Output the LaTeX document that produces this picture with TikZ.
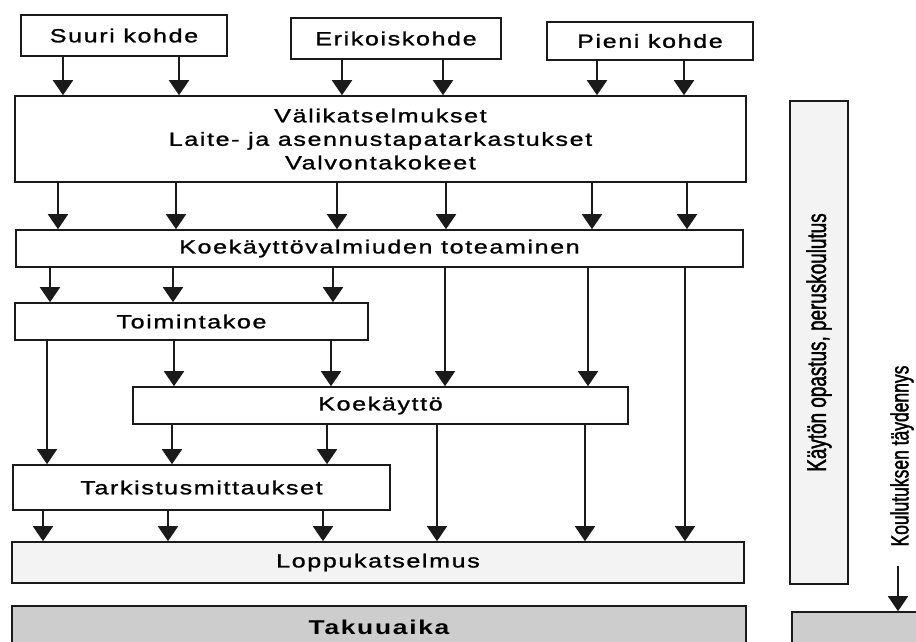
\documentclass[tikz,border=0pt]{standalone}
\usepackage{fontspec}
\setmainfont{Liberation Sans}[FakeStretch=1.32,LetterSpace=8.5,UprightFeatures={FakeBold=1.2}]
\newfontfamily\narrowfont{Liberation Sans}[FakeStretch=0.7,FakeBold=1.5]
\usetikzlibrary{arrows.meta}
\definecolor{ink}{HTML}{1A1A1A}
\definecolor{paleshade}{HTML}{F3F3F3}
\definecolor{midshade}{HTML}{CDCDCD}
% vertical connector at a given x between the lower edge of one box and the upper edge of another
\newcommand\flow[4]{\draw[#4] (#2.south -| #1,0) -- (#3.north -| #1,0);}
\begin{document}
\begin{tikzpicture}[x=1pt,y=-1pt,
  box/.style={draw=ink,line width=1.6pt,fill=white,inner sep=0pt,
    font=\fontsize{19}{23.5}\selectfont,align=center},
  arr/.style={draw=ink,line width=1.9pt,-{Triangle[width=20pt,length=15pt]}},
  larr/.style={draw=ink,line width=1.3pt,-{Triangle[width=20pt,length=15pt]}},
  sidetext/.style={rotate=90,inner sep=0pt,font=\narrowfont}
]
\useasboundingbox (0,0) rectangle (916,641);
\clip (0,0) rectangle (916,641);
\fill[white] (0,0) rectangle (916,641);

% project types
\node[box,minimum width=206pt,minimum height=41pt] (suuri) at (124,35.5) {Suuri kohde};
\node[box,minimum width=210pt,minimum height=41pt] (erik) at (396,38.5) {Erikoiskohde};
\node[box,minimum width=206pt,minimum height=38pt] (pieni) at (650,41) {Pieni kohde};

% inspection and testing stages
\node[box,minimum width=731pt,minimum height=86pt] (vali) at (380.5,139)
  {Välikatselmukset\\Laite- ja asennustapatarkastukset\\Valvontakokeet};
\node[box,minimum width=727pt,minimum height=37pt] (kval) at (379.5,248.5)
  {Koekäyttövalmiuden toteaminen};
\node[box,minimum width=353pt,minimum height=37pt] (toim) at (191.5,321.5) {Toimintakoe};
\node[box,minimum width=495pt,minimum height=37pt] (koek) at (380.5,405.5) {Koekäyttö};
\node[box,minimum width=377pt,minimum height=45pt] (tark) at (201.5,487.5) {Tarkistusmittaukset};
\node[box,fill=paleshade,minimum width=732pt,minimum height=41pt] (lopp) at (378,562.5) {Loppukatselmus};
\node[box,fill=midshade,minimum width=734pt,minimum height=42pt,
  font=\fontsize{20}{24}\selectfont\bfseries] (taku) at (379,627) {Takuuaika};

% training column
\node[box,fill=paleshade,rotate=90,minimum width=483pt,minimum height=58pt,
  font=\narrowfont\fontsize{27}{30}\selectfont] (kayt) at (819,342.5)
  {Käytön opastus, peruskoulutus};
\node[sidetext,font=\narrowfont\fontsize{25}{30}\selectfont] (tayd) at (902,456) {Koulutuksen täydennys};
\node[box,fill=midshade,minimum width=138pt,minimum height=38pt] (rbox) at (861,631) {};
\coordinate (tend) at (898,566);
\draw[larr] (tend) -- (tend |- rbox.north);

% flows
\flow{63}{suuri}{vali}{arr}
\flow{179}{suuri}{vali}{arr}
\flow{342}{erik}{vali}{arr}
\flow{443}{erik}{vali}{arr}
\flow{597}{pieni}{vali}{arr}
\flow{684}{pieni}{vali}{arr}

\flow{58}{vali}{kval}{arr}
\flow{176}{vali}{kval}{arr}
\flow{337}{vali}{kval}{arr}
\flow{446}{vali}{kval}{arr}
\flow{592}{vali}{kval}{arr}
\flow{687}{vali}{kval}{arr}

\flow{50}{kval}{toim}{arr}
\flow{173}{kval}{toim}{arr}
\flow{333}{kval}{toim}{arr}
\flow{445}{kval}{koek}{larr}
\flow{588}{kval}{koek}{larr}
\flow{685}{kval}{lopp}{larr}

\flow{47}{toim}{tark}{larr}
\flow{174}{toim}{koek}{arr}
\flow{331}{toim}{koek}{arr}

\flow{172}{koek}{tark}{arr}
\flow{327}{koek}{tark}{arr}
\flow{437}{koek}{lopp}{larr}
\flow{585}{koek}{lopp}{larr}

\flow{43}{tark}{lopp}{arr}
\flow{168}{tark}{lopp}{arr}
\flow{323}{tark}{lopp}{arr}
\end{tikzpicture}
\end{document}
